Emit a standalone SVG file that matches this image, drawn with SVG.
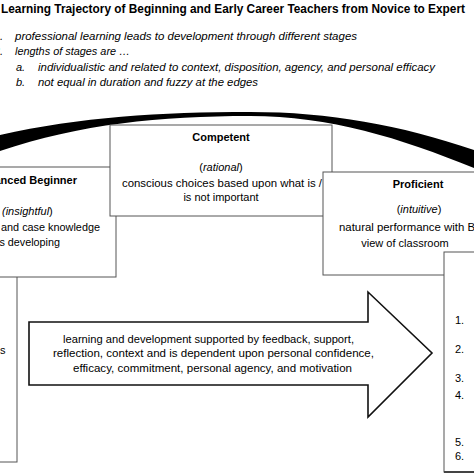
<svg xmlns="http://www.w3.org/2000/svg" width="474" height="474" viewBox="0 0 474 474">
<style>
text{font-family:"Liberation Sans","Open Sans",Arial,sans-serif;fill:#000;}
.title{font-size:12.5px;font-weight:bold;}
.it{font-size:11px;font-style:italic;}
.t{font-size:11px;}
.b{font-size:11px;font-weight:bold;}
.box{fill:#fff;stroke:#555;stroke-width:1;}
.arrow{fill:#fff;stroke:#111;stroke-width:1.6;stroke-linejoin:miter;}
.c{text-anchor:middle;}
</style>
<rect x="0" y="0" width="474" height="474" fill="#fff"/>
<g id="header">
<text class="title" x="1" y="12.5" textLength="464" lengthAdjust="spacingAndGlyphs">Learning Trajectory of Beginning and Early Career Teachers from Novice to Expert</text>
<text class="it" x="3" y="40" text-anchor="end">1.</text>
<text class="it" x="15" y="40" textLength="342" lengthAdjust="spacingAndGlyphs">professional learning leads to development through different stages</text>
<text class="it" x="3" y="55" text-anchor="end">2.</text>
<text class="it" x="15" y="55" textLength="115" lengthAdjust="spacingAndGlyphs">lengths of stages are …</text>
<text class="it" x="16" y="71">a.</text>
<text class="it" x="38" y="71" textLength="397" lengthAdjust="spacingAndGlyphs">individualistic and related to context, disposition, agency, and personal efficacy</text>
<text class="it" x="16" y="86">b.</text>
<text class="it" x="38" y="86" textLength="220" lengthAdjust="spacingAndGlyphs">not equal in duration and fuzzy at the edges</text>
</g>
<g id="trajectory-arc">
<path d="M0,135 C80,117 160,112 250,112 C330,112 400,125 474,150 L474,168 C400,138 330,116 250,116 C160,116 80,124 0,151 Z" fill="#000"/>
</g>
<g id="novice">
<rect class="box" x="-20" y="240" width="37" height="222"/>
<text class="t" x="0" y="354">s</text>
</g>
<g id="advanced-beginner">
<rect class="box" x="-20" y="167" width="136" height="110"/>
<text class="b" x="77" y="184" text-anchor="end">Advanced Beginner</text>
<text class="t" x="2" y="215"><tspan font-style="italic">(insightful</tspan>)</text>
<text class="t" x="1" y="231" textLength="99" lengthAdjust="spacingAndGlyphs">and case knowledge</text>
<text class="t" x="60" y="246" text-anchor="end" textLength="63" lengthAdjust="spacingAndGlyphs">is developing</text>
</g>
<g id="competent">
<rect class="box" x="110" y="125" width="222" height="91"/>
<text class="b c" x="221" y="141">Competent</text>
<text class="t c" x="221" y="171">(<tspan font-style="italic">rational</tspan>)</text>
<text class="t" x="122" y="187" textLength="200" lengthAdjust="spacingAndGlyphs">conscious choices based upon what is /</text>
<text class="t c" x="221" y="201">is not important</text>
</g>
<g id="proficient">
<rect class="box" x="323" y="172" width="200" height="103"/>
<text class="b c" x="418" y="188">Proficient</text>
<text class="t c" x="419" y="213">(<tspan font-style="italic">intuitive</tspan>)</text>
<text class="t" x="339" y="231" textLength="136" lengthAdjust="spacingAndGlyphs">natural performance with B</text>
<text class="t c" x="405" y="247">view of classroom</text>
</g>
<g id="expert">
<rect class="box" x="444" y="252" width="100" height="220"/>
<line x1="444" y1="472" x2="474" y2="472" stroke="#444" stroke-width="2"/>
<text class="t" x="455" y="324">1.</text>
<text class="t" x="455" y="353">2.</text>
<text class="t" x="455" y="382">3.</text>
<text class="t" x="455" y="399">4.</text>
<text class="t" x="455" y="446">5.</text>
<text class="t" x="455" y="460">6.</text>
</g>
<g id="connectors">
<path class="arrow" d="M29,322 H368 V292 L432,353 L368,417 V385 H29 Z"/>
<text class="t" x="63" y="343" textLength="291" lengthAdjust="spacingAndGlyphs">learning and development supported by feedback, support,</text>
<text class="t" x="53" y="357" textLength="321" lengthAdjust="spacingAndGlyphs">reflection, context and is dependent upon personal confidence,</text>
<text class="t" x="73" y="372" textLength="279" lengthAdjust="spacingAndGlyphs">efficacy, commitment, personal agency, and motivation</text>
</g>
</svg>
